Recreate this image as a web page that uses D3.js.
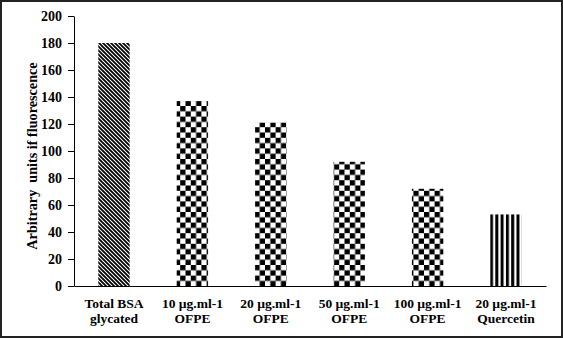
<!DOCTYPE html>
<html>
<head>
<meta charset="utf-8">
<script src="https://cdn.jsdelivr.net/npm/d3@7"></script>
<style>
  html, body { margin: 0; padding: 0; background: #fff; }
  svg { display: block; }
  text { font-family: "Liberation Serif", "Times New Roman", serif; font-weight: bold; fill: #000; }
</style>
</head>
<body>
<svg id="chart" width="563" height="338"></svg>
<script>
const categories = ["Total BSA|glycated", "10 µg.ml-1|OFPE", "20 µg.ml-1|OFPE", "50 µg.ml-1|OFPE", "100 µg.ml-1|OFPE", "20 µg.ml-1|Quercetin"];
const values = [180, 137, 121, 92, 72, 53];
const patterns = ["diag", "check", "check", "check", "check", "vstripe"];
const yTicks = [0, 20, 40, 60, 80, 100, 120, 140, 160, 180, 200];
const yTitle = "Arbitrary  units if fluorescence";

const svg = d3.select("#chart");
const W = 563, H = 338;

// border
svg.append("rect").attr("x", 1).attr("y", 1).attr("width", W - 2).attr("height", H - 2)
  .attr("fill", "#fff").attr("stroke", "#222").attr("stroke-width", 2);

const defs = svg.append("defs");
// diagonal stripes
const pd = defs.append("pattern").attr("id", "diag").attr("patternUnits", "userSpaceOnUse")
  .attr("width", 4).attr("height", 4);
pd.append("rect").attr("width", 4).attr("height", 4).attr("fill", "#fff");
pd.append("path").attr("d", "M-1,-1 L5,5 M-1,3 L1,5 M3,-1 L5,1")
  .attr("stroke", "#000").attr("stroke-width", 1.8);
// checkerboard
const pc = defs.append("pattern").attr("id", "check").attr("patternUnits", "userSpaceOnUse")
  .attr("width", 10.6).attr("height", 10.6);
pc.append("rect").attr("width", 10.6).attr("height", 10.6).attr("fill", "#fff");
pc.append("rect").attr("width", 5.3).attr("height", 5.3).attr("fill", "#000");
pc.append("rect").attr("x", 5.3).attr("y", 5.3).attr("width", 5.3).attr("height", 5.3).attr("fill", "#000");
// vertical stripes
const pv = defs.append("pattern").attr("id", "vstripe").attr("patternUnits", "userSpaceOnUse")
  .attr("width", 5.3).attr("height", 10).attr("x", 490);
pv.append("rect").attr("width", 5.3).attr("height", 10).attr("fill", "#fff");
pv.append("rect").attr("width", 3).attr("height", 10).attr("fill", "#000");

const x = d3.scaleBand().domain(categories).range([74, 546]).paddingInner(0.6).paddingOuter(0.31);
const y = d3.scaleLinear().domain([0, 200]).range([286, 16]);

// bars
svg.append("g").selectAll("rect").data(categories).join("rect")
  .attr("x", d => x(d))
  .attr("y", (d, i) => y(values[i]))
  .attr("width", x.bandwidth())
  .attr("height", (d, i) => y(0) - y(values[i]))
  .attr("fill", (d, i) => `url(#${patterns[i]})`);

// y axis
const yAxis = svg.append("g").attr("transform", "translate(74,0)")
  .call(d3.axisLeft(y).tickValues(yTicks).tickSize(6).tickSizeOuter(0).tickPadding(6));
yAxis.selectAll("path, line").attr("stroke", "#000").attr("stroke-width", 1);
yAxis.selectAll("text").attr("font-size", 14).attr("fill", "#000");

// x axis
const xAxis = svg.append("g").attr("transform", "translate(0,286)")
  .call(d3.axisBottom(x).tickSize(0).tickSizeOuter(0).tickFormat(""));
xAxis.select("path").attr("stroke", "#000").attr("stroke-width", 1);

// category labels
const lab = svg.append("g").selectAll("text").data(categories).join("text")
  .attr("text-anchor", "middle").attr("font-size", 13.5)
  .attr("x", d => x(d) + x.bandwidth() / 2).attr("y", 308);
lab.each(function(d) {
  const parts = d.split("|");
  const t = d3.select(this);
  const cx = x(d) + x.bandwidth() / 2;
  t.append("tspan").attr("x", cx).attr("y", 308).text(parts[0]);
  t.append("tspan").attr("x", cx).attr("y", 323).text(parts[1]);
});

// y title
svg.append("text").attr("transform", "translate(37,156) rotate(-90)")
  .attr("text-anchor", "middle").attr("font-size", 14.2)
  .style("white-space", "pre").text(yTitle);
</script>
</body>
</html>
